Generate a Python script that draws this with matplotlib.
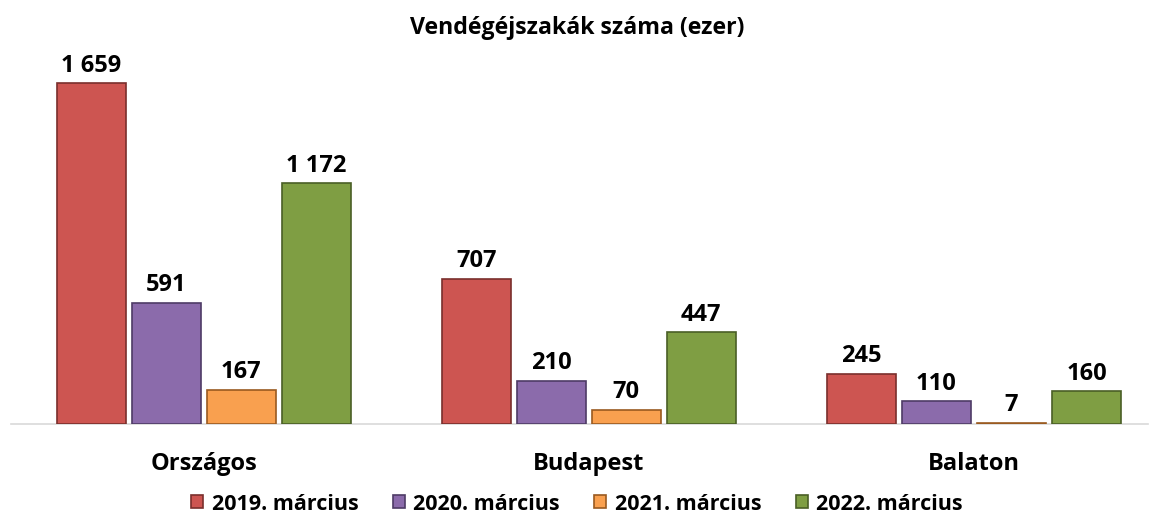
import numpy as np
import matplotlib.pyplot as plt

# data
categories = ['Országos', 'Budapest', 'Balaton']
series = ['2019. március', '2020. március', '2021. március', '2022. március']
v2019 = [1659, 707, 245]
v2020 = [591, 210, 110]
v2021 = [167, 70, 7]
v2022 = [1172, 447, 160]

colors = ['#CD5551', '#8B6BAB', '#F9A04F', '#7F9E43']
edges = ['#7A2F2C', '#4E3B66', '#9A5A20', '#4A5F26']

plt.rcParams['font.family'] = ['Open Sans', 'DejaVu Sans']

W, H = 1154, 513
fig = plt.figure(figsize=(W / 100, H / 100), dpi=100)
ax = fig.add_axes([11 / W, 89 / H, (1148 - 11) / W, (424 - 60) / H])

x = np.arange(len(categories))
step = 75 / 385
bw = 69 / 385
values = [v2019, v2020, v2021, v2022]

for i, (vals, name) in enumerate(zip(values, series)):
    pos = x + (i - 1.5) * step
    bars = ax.bar(pos, vals, bw, color=colors[i], edgecolor=edges[i],
                  linewidth=1.2, label=name, zorder=3)
    for b, v in zip(bars, vals):
        txt = f'{v:,}'.replace(',', ' ')
        ax.annotate(txt, (b.get_x() + b.get_width() / 2, v),
                    xytext=(0, 4), textcoords='offset points',
                    ha='center', va='bottom', fontsize=17,
                    fontweight='bold', color='black')

ax.set_xlim(-0.5, (1148 - 204) / 385)
ax.set_ylim(0, (424 - 60) / 0.2055)
ax.set_yticks([])
ax.set_xticks(x)
ax.set_xticklabels(categories, fontsize=17, fontweight='bold')
ax.tick_params(axis='x', length=0, pad=20)
for s in ['top', 'right', 'left']:
    ax.spines[s].set_visible(False)
ax.spines['bottom'].set_color('#D9D9D9')
ax.spines['bottom'].set_linewidth(1.2)

fig.text(0.5, 1 - 28 / H, 'Vendégéjszakák száma (ezer)', ha='center',
         va='center', fontsize=16.7, fontweight='bold')

leg = fig.legend(loc='center', bbox_to_anchor=(577 / W, 9 / H), ncol=4,
                 frameon=False, handlelength=0.55, handleheight=0.55,
                 handletextpad=0.4, columnspacing=1.6, borderpad=0.0,
                 prop={'size': 15.5, 'weight': 'bold'})

fig.savefig('out.png', dpi=100)
